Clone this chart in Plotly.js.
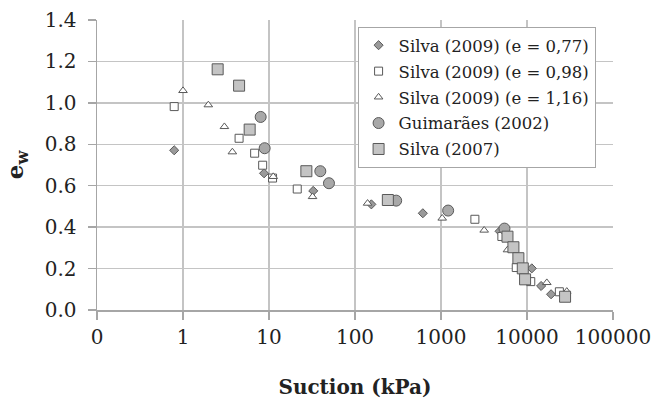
<!DOCTYPE html>
<html>
<head>
<meta charset="utf-8">
<script src="https://cdn.plot.ly/plotly-3.0.1.min.js"></script>
<style>html,body{margin:0;padding:0;background:#fff;}#chart{width:654px;height:405px;}</style>
</head>
<body>
<div id="chart"></div>
<script>
// Silva (2009) (e = 0,77)
const s077_x = [0.79, 8.76, 32.7, 155, 615, 4800, 11370, 14590, 19050];
const s077_y = [0.771, 0.660, 0.575, 0.510, 0.467, 0.380, 0.201, 0.116, 0.076];
// Silva (2009) (e = 0,98)
const s098_x = [0.79, 4.49, 6.81, 8.44, 11.0, 21.3, 2477, 5100, 7500, 11060, 23790];
const s098_y = [0.982, 0.829, 0.757, 0.699, 0.637, 0.584, 0.438, 0.355, 0.205, 0.137, 0.088];
// Silva (2009) (e = 1,16)
const s116_x = [1.0, 1.97, 3.03, 3.75, 11.2, 32.1, 140, 1033, 3177, 5930, 16990, 29000];
const s116_y = [1.059, 0.990, 0.885, 0.763, 0.644, 0.547, 0.515, 0.443, 0.385, 0.290, 0.132, 0.090];
// Guimarães (2002)
const g2002_x = [8.0, 8.9, 39.5, 49.8, 301, 1211, 5470];
const g2002_y = [0.932, 0.781, 0.670, 0.612, 0.528, 0.480, 0.393];
// Silva (2007)
const s2007_x = [2.53, 4.49, 5.96, 27.2, 241, 5930, 6950, 7940, 8930, 9500, 27710];
const s2007_y = [1.162, 1.083, 0.871, 0.670, 0.531, 0.354, 0.303, 0.250, 0.201, 0.148, 0.064];

const xTickVals = [0.1, 1, 10, 100, 1000, 10000, 100000];
const xTickText = ['0', '1', '10', '100', '1000', '10000', '100000'];
const yTickVals = [0, 0.2, 0.4, 0.6, 0.8, 1.0, 1.2, 1.4];
const yTickText = ['0.0', '0.2', '0.4', '0.6', '0.8', '1.0', '1.2', '1.4'];

const outline = '#595959';
const traces = [
  {name: 'Silva (2009) (e = 0,77)', legendgroup: 'a', x: s077_x, y: s077_y,
   marker: {symbol: 'diamond', size: 7, color: '#9a9a9a', line: {color: outline, width: 1}}},
  {name: 'Silva (2009) (e = 0,98)', legendgroup: 'b', x: s098_x, y: s098_y,
   marker: {symbol: 'square', size: 8, color: '#ffffff', line: {color: outline, width: 1}}},
  {name: 'Silva (2009) (e = 1,16)', legendgroup: 'c', x: s116_x, y: s116_y,
   marker: {symbol: 'triangle-up', size: 7.5, color: '#ffffff', line: {color: outline, width: 1}}},
  {name: 'Guimarães (2002)', legendgroup: 'd', x: g2002_x, y: g2002_y,
   marker: {symbol: 'circle', size: 11, color: '#a8a8a8', line: {color: outline, width: 1}}},
  {name: 'Silva (2007)', legendgroup: 'e', x: s2007_x, y: s2007_y,
   marker: {symbol: 'square', size: 11, color: '#c4c4c4', line: {color: outline, width: 1}}}
].map(t => Object.assign({type: 'scatter', mode: 'markers'}, t));

const serif = 'DejaVu Serif';
const layout = {
  width: 654, height: 405,
  margin: {l: 96.5, r: 41, t: 20, b: 95},
  paper_bgcolor: '#ffffff', plot_bgcolor: '#ffffff',
  font: {family: serif, color: '#222', size: 20},
  showlegend: true,
  legend: {
    x: 0.505, y: 0.976, xanchor: 'left', yanchor: 'top',
    bgcolor: '#ffffff', bordercolor: '#a6a6a6', borderwidth: 1,
    font: {family: serif, size: 16.5, color: '#222'}, itemwidth: 30, tracegroupgap: 1.5
  },
  xaxis: {
    type: 'log', range: [-1, 5],
    tickvals: xTickVals, ticktext: xTickText,
    showgrid: true, gridcolor: '#c4c4c4', gridwidth: 1.5,
    showline: true, linecolor: '#a6a6a6', linewidth: 1.5,
    ticks: 'outside', ticklen: 8, tickcolor: '#a6a6a6', tickwidth: 1.5,
    zeroline: false,
    tickfont: {family: serif, size: 20},
    title: {text: '<b>Suction (kPa)</b>', font: {family: serif, size: 20}, standoff: 32}
  },
  yaxis: {
    range: [0, 1.4],
    tickvals: yTickVals, ticktext: yTickText,
    showgrid: true, gridcolor: '#c4c4c4', gridwidth: 1.5,
    showline: true, linecolor: '#a6a6a6', linewidth: 1.5,
    ticks: 'outside', ticklen: 8, tickcolor: '#a6a6a6', tickwidth: 1.5,
    zeroline: false,
    tickfont: {family: serif, size: 20},
    ticklabelstandoff: 7,
    title: {text: '<b>e<sub>w</sub></b>', font: {family: serif, size: 23}, standoff: 14}
  }
};

Plotly.newPlot('chart', traces, layout, {displayModeBar: false, staticPlot: true});
</script>
</body>
</html>
